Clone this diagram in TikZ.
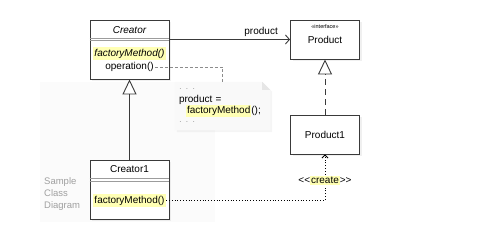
\documentclass[tikz,border=0pt]{standalone}
\usepackage{fontspec}
\setmainfont{Liberation Sans}
\usetikzlibrary{arrows.meta, positioning, calc, shadows, backgrounds}
\definecolor{boxline}{HTML}{3A3A3A}
\definecolor{sepgray}{HTML}{9C9C9C}
\definecolor{hlyellow}{HTML}{FFFFB4}
\definecolor{notefill}{HTML}{F9F9F9}
\definecolor{foldgray}{HTML}{E6E6E6}
\definecolor{faintbg}{HTML}{FBFBFB}
\definecolor{capgray}{HTML}{A0A0A0}
\definecolor{linkgray}{HTML}{8C8C8C}
\newcommand{\hlbox}[1]{{\setlength{\fboxsep}{1pt}\colorbox{hlyellow}{#1}}}

\begin{document}
\begin{tikzpicture}[
  x=1pt, y=-1pt,
  font=\fontsize{10}{12}\selectfont,
  classbox/.style={
    draw=boxline, line width=0.9pt, fill=white, inner sep=0pt,
    minimum width=79pt, minimum height=#1,
    drop shadow={shadow xshift=2pt, shadow yshift=-2pt, opacity=0.12}
  },
  method/.style={fill=hlyellow, inner sep=1.5pt},
  sepline/.style={draw=sepgray, line width=0.6pt},
  inherit/.style={-{Triangle[open, length=15pt, width=14pt, fill=white]},
    draw=boxline, line width=0.9pt},
  assoc/.style={-{Straight Barb[length=4pt, width=9pt]}, draw=boxline, line width=0.9pt},
  create/.style={-{Straight Barb[length=3pt, width=6pt]}, draw=black,
    line width=0.8pt, dash pattern=on 0.8pt off 2pt},
  notelink/.style={draw=linkgray, line width=0.6pt, dash pattern=on 3pt off 2pt},
]

\useasboundingbox (0,0) rectangle (500,240);

% =============================================
% Creator (abstract)
% =============================================
\node[classbox=59pt] (creator) at (129.5,49.5) {};
\node[font=\fontsize{10}{12}\selectfont\itshape] (creatorname) at (129.5,30) {Creator};
\draw[sepline] ($(creator.north west)+(0,18.5)$) -- ($(creator.north east)+(0,18.5)$);
\draw[sepline] ($(creator.north west)+(0,21)$) -- ($(creator.north east)+(0,21)$);
\node[method, font=\fontsize{10}{12}\selectfont\itshape] (creatorfm) at (129.5,53.5) {factoryMethod()};
\node[inner sep=1pt] (creatorop) at (129.5,67) {operation()};

% =============================================
% Creator1
% =============================================
\node[classbox=59pt] (creator1) at (129.5,189.5) {};
\node (creator1name) at (129.5,169.5) {Creator1};
\draw[sepline] ($(creator1.north west)+(0,19)$) -- ($(creator1.north east)+(0,19)$);
\draw[sepline] ($(creator1.north west)+(0,21.5)$) -- ($(creator1.north east)+(0,21.5)$);
\node[method] (creator1fm) at (129.5,200.5) {factoryMethod()};

% =============================================
% Product (interface) and Product1
% =============================================
\node[classbox=39pt, minimum width=69pt] (product) at (325,39.5) {};
\node[font=\fontsize{5.5}{6}\selectfont] (productst) at (325,27) {«interface»};
\node (productname) at (325,40) {Product};

\node[classbox=39pt, minimum width=69pt] (product1) at (325,134.5) {Product1};

% =============================================
% Note
% =============================================
\node[minimum width=95pt, minimum height=48pt, text width=87pt, align=left,
      inner sep=4pt, font=\fontsize{10}{11}\selectfont]
  (note) at (222.5,106)
  {{\color{capgray}$\cdot\,\cdot\,\cdot$}\\
   product =\\
   \hspace*{7pt}\hlbox{factoryMethod}();\\
   {\color{capgray}$\cdot\,\cdot\,\cdot$}};

\begin{scope}[on background layer]
  \fill[faintbg] (40,82) rectangle (215,222);
  \fill[notefill, drop shadow={shadow xshift=2pt, shadow yshift=-2pt, opacity=0.08}]
    (note.north west) -- ($(note.north east)+(-8,0)$) -- ($(note.north east)+(0,8)$)
    -- (note.south east) -- (note.south west) -- cycle;
  \fill[foldgray] ($(note.north east)+(-8,0)$) -- ($(note.north east)+(-8,8)$)
    -- ($(note.north east)+(0,8)$) -- cycle;
\end{scope}

% Caption
\node[font=\fontsize{9.5}{12}\selectfont, text=capgray, align=left,
      anchor=north west, inner sep=0pt]
  (caption) at (44,177) {Sample\\Class\\Diagram};

% =============================================
% Arrows
% =============================================

% Creator -> Product (association)
\draw[assoc] (creator.east |- product.west) -- (product.west)
  node[pos=0.76, above, inner sep=2pt] {product};

% Creator1 -> Creator (generalization)
\draw[inherit] (creator1.north) -- (creator.south);

% Product1 -> Product (realization)
\draw[inherit, dash pattern=on 6pt off 4pt] (product1.north) -- (product.south);

% Creator1 creates Product1
\draw[create] (creator1fm.east) -| (product1.south)
  node[pos=0.72, fill=white, inner sep=1pt] {<\kern0pt<\hlbox{create}>\kern0pt>};

% operation() -- note
\draw[notelink] (creatorop.east) -| (note.north);

\end{tikzpicture}
\end{document}
